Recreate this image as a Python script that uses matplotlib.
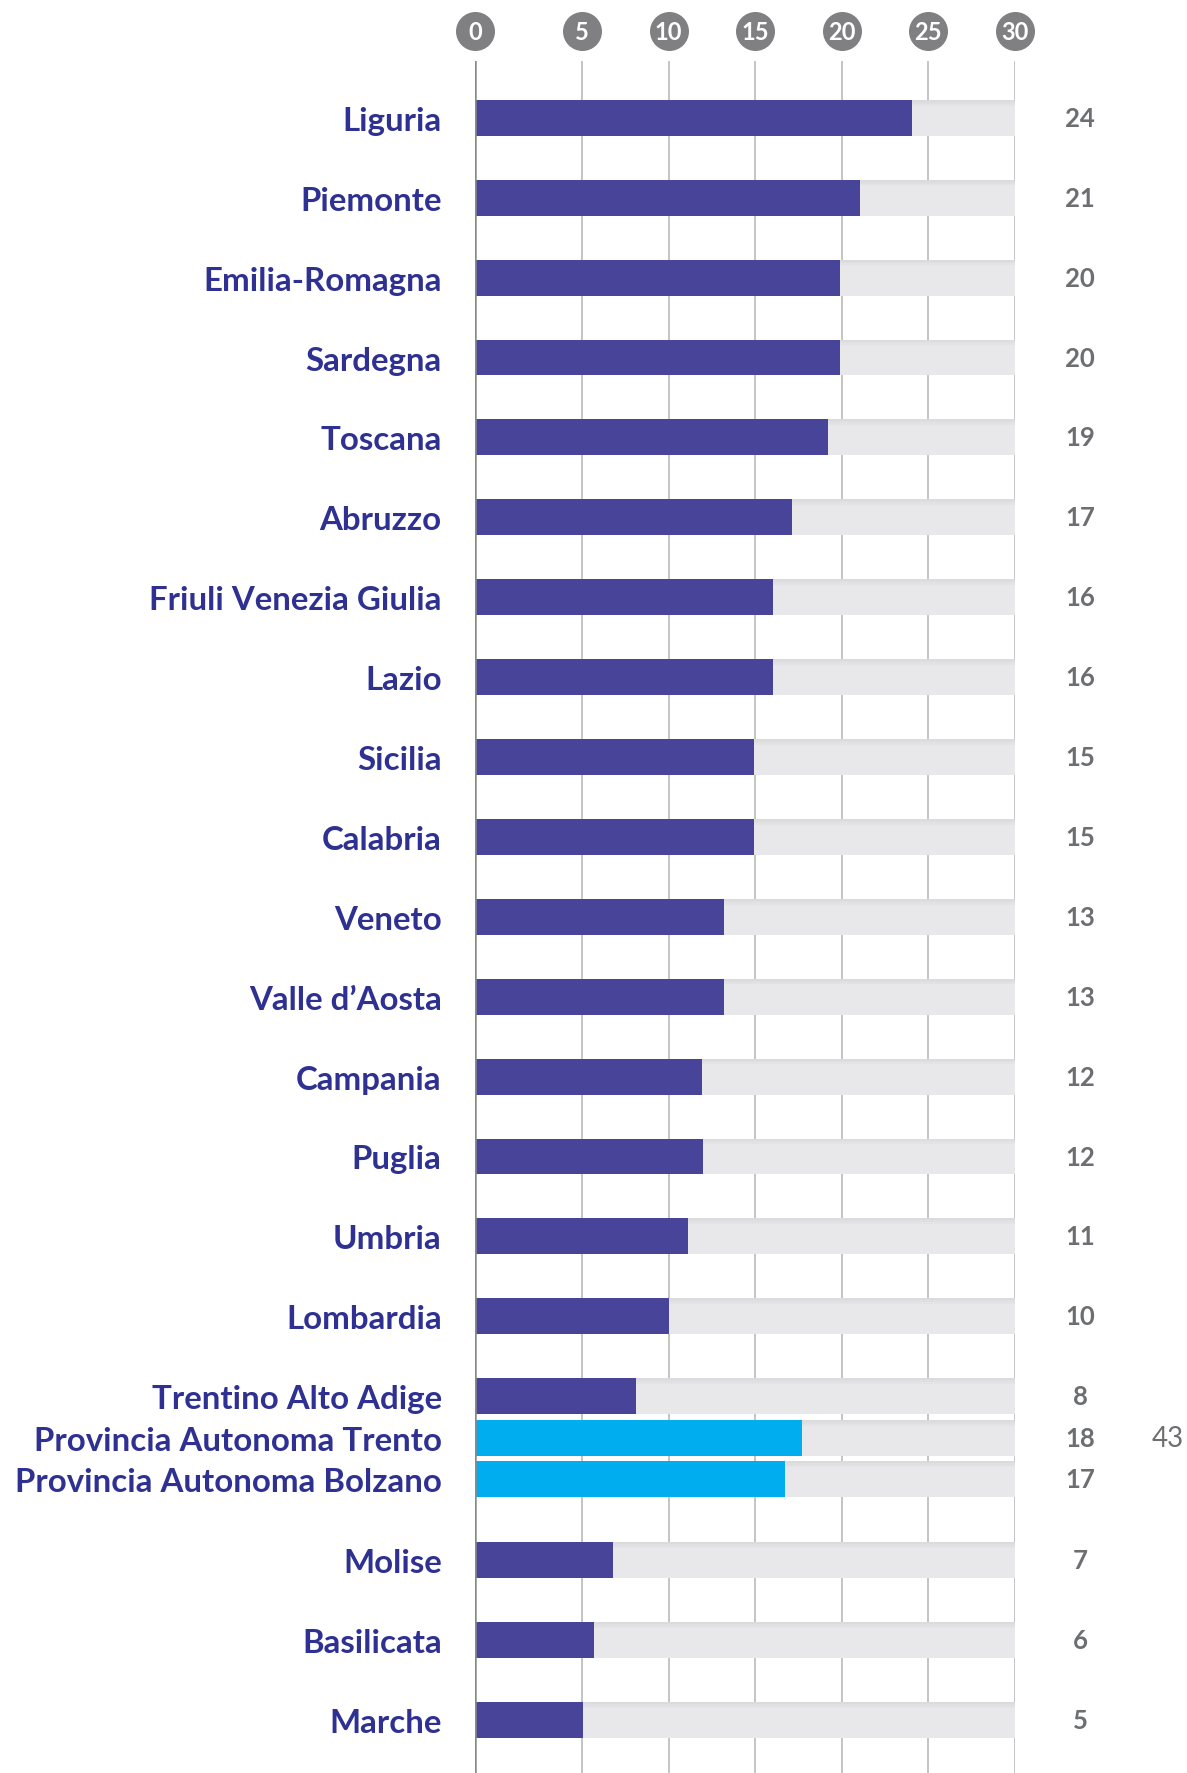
import numpy as np
import matplotlib
matplotlib.use("Agg")
import matplotlib.pyplot as plt
import matplotlib.transforms as mtransforms

# ---------------- data ----------------
categories = ["Liguria", "Piemonte", "Emilia-Romagna", "Sardegna", "Toscana",
              "Abruzzo", "Friuli Venezia Giulia", "Lazio", "Sicilia", "Calabria",
              "Veneto", "Valle d\u2019Aosta", "Campania", "Puglia", "Umbria",
              "Lombardia", "Trentino Alto Adige", "Provincia Autonoma Trento",
              "Provincia Autonoma Bolzano", "Molise", "Basilicata", "Marche"]
bar_values = [24.06, 21.06, 19.9, 19.9, 19.2, 17.1, 16.0, 16.0, 14.95, 14.95,
              13.2, 13.2, 11.9, 12.0, 11.1, 10.05, 8.1, 17.7, 16.7, 6.8, 5.7, 5.08]
value_labels = ["24", "21", "20", "20", "19", "17", "16", "16", "15", "15",
                "13", "13", "12", "12", "11", "10", "8", "18", "17", "7", "6", "5"]
provinces = ["Provincia Autonoma Trento", "Provincia Autonoma Bolzano"]
extra_label = "43"
x_ticks = [0, 5, 10, 15, 20, 25, 30]
x_max = 30

# ---------------- style ----------------
PURPLE = "#47449a"
CYAN = "#00aeef"
TRACK = "#e8e8ea"
TRACK_TOP = "#dadadc"
NAVY = "#2e3192"
GREY_TXT = "#6d6e71"
CIRCLE = "#808083"
GRID = "#b4b4b4"
FAM = ["Lato", "DejaVu Sans"]

W, H = 1187, 1774
fig = plt.figure(figsize=(W / 100, H / 100), dpi=100)

ax_left, ax_right = 475, 1015
ax_top = 62
ax = fig.add_axes([ax_left / W, 0, (ax_right - ax_left) / W, 1 - ax_top / H])

# uneven spacing of the reference grid: first interval wider than the others
k0 = 107 / 5.0
k1 = (540 - 107) / 25.0


def fwd(x):
    x = np.asarray(x, dtype=float)
    return np.where(x < 5, x * k0, 5 * k0 + (x - 5) * k1)


def inv(y):
    y = np.asarray(y, dtype=float)
    return np.where(y < 5 * k0, y / k0, 5 + (y - 5 * k0) / k1)


ax.set_xscale("function", functions=(fwd, inv))
ax.set_xlim(0, x_max)

# vertical layout of rows
pos = []
for i, c in enumerate(categories):
    if c == provinces[0]:
        pos.append(16.52)
    elif c == provinces[1]:
        pos.append(17.04)
    elif i > 18:
        pos.append(i - 0.95)
    else:
        pos.append(float(i))
pos = np.array(pos)

row_px = 79.9
first_px = 118.8
ax.set_ylim((H - first_px) / row_px, -(first_px - ax_top) / row_px)

bh = 0.45
colors = [CYAN if c in provinces else PURPLE for c in categories]

# grid
for t in x_ticks[1:]:
    ax.axvline(t, color=GRID, lw=1.1, zorder=0)
ax.axvline(0, color="#8a8a8a", lw=1.8, zorder=4)

# track bars with a soft darker top edge
ax.barh(pos, [x_max] * len(pos), height=bh, color=TRACK, zorder=1)
for k, a in enumerate([0.9, 0.6, 0.35]):
    ax.barh(pos - bh / 2 + 0.012 + k * 0.024, [x_max] * len(pos), height=0.024,
            color=TRACK_TOP, alpha=a, zorder=1.5, linewidth=0)
# value bars
ax.barh(pos, bar_values, height=bh, color=colors, zorder=2)

# category labels
ax.set_yticks(pos)
ax.set_yticklabels(categories, fontsize=23.8, fontweight="bold", color=NAVY,
                   family=FAM)
ax.tick_params(axis="y", length=0, pad=24)
ax.tick_params(axis="x", length=0, labelbottom=False, labeltop=False)
ax.set_xticks(x_ticks)

for s in ax.spines.values():
    s.set_visible(False)

# tick circles on top
trans = mtransforms.blended_transform_factory(ax.transData, ax.transAxes)
cy = 1 + 30 / (H - ax_top)
ax.scatter(x_ticks, [cy] * len(x_ticks), s=(39 * 0.72) ** 2, color=CIRCLE,
           transform=trans, clip_on=False, zorder=5, linewidths=0)
for t in x_ticks:
    ax.text(t, cy, str(t), transform=trans, ha="center", va="center",
            color="white", fontsize=17, fontweight="bold",
            family=FAM, zorder=6, clip_on=False)

# value labels at right
for p, lab in zip(pos, value_labels):
    ax.annotate(lab, xy=(x_max, p), xytext=(65 * 0.72, 0),
                textcoords="offset points", ha="center", va="center",
                fontsize=18.5, fontweight="bold", color=GREY_TXT,
                family=FAM, annotation_clip=False)

tr_pos = pos[categories.index(provinces[0])]
ax.annotate(extra_label, xy=(x_max, tr_pos), xytext=(153 * 0.72, 0),
            textcoords="offset points", ha="center", va="center",
            fontsize=20, color=GREY_TXT, family=FAM,
            annotation_clip=False)

fig.savefig("out.png", dpi=100)
